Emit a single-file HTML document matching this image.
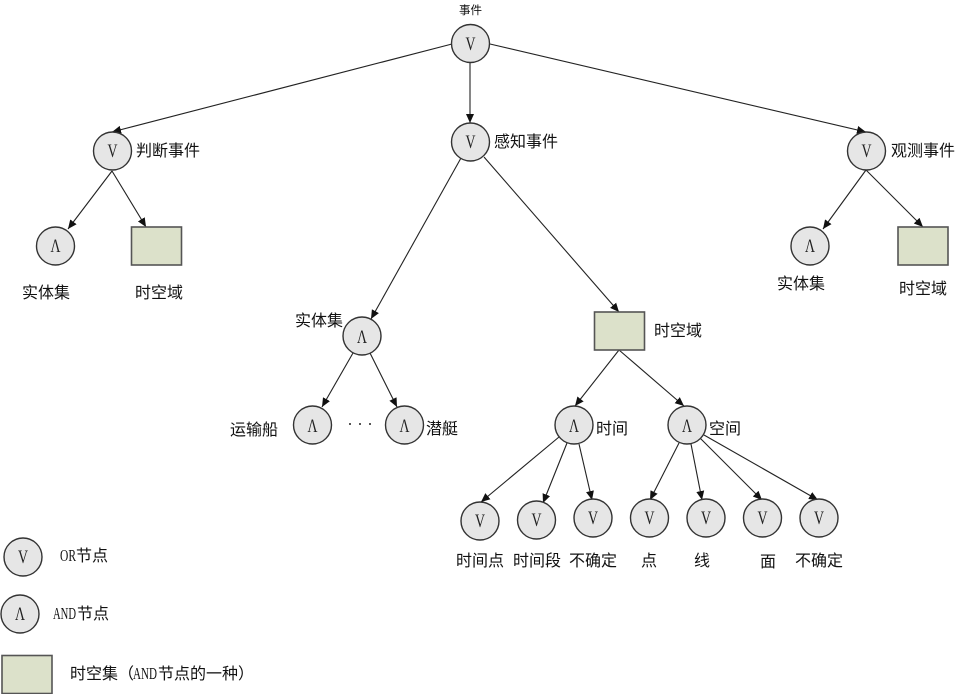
<!DOCTYPE html>
<html><head><meta charset="utf-8"><style>
html,body{margin:0;padding:0;background:#fff}
svg{display:block}
text{font-family:"Liberation Sans","WenQuanYi Zen Hei","Noto Sans CJK SC",sans-serif;fill:#111}
.l{font-size:16px}
.n{font-family:"Liberation Serif",serif;font-size:19px;fill:#222;text-anchor:middle}
circle{fill:#e6e6e6;stroke:#333;stroke-width:1.4}
rect{fill:#dce1ca;stroke:#555;stroke-width:1.6}
line{stroke:#222;stroke-width:1.1;marker-end:url(#a)}
</style></head><body>
<svg width="964" height="694" viewBox="0 0 964 694" xmlns="http://www.w3.org/2000/svg">
<defs><marker id="a" markerUnits="userSpaceOnUse" markerWidth="11" markerHeight="10" refX="9" refY="5" orient="auto"><path d="M0,1L9,5L0,9z" fill="#111"/></marker></defs>
<line x1="452" y1="44" x2="112" y2="132"/>
<line x1="470" y1="62" x2="470" y2="123"/>
<line x1="490" y1="44" x2="866" y2="132"/>
<line x1="112" y1="171" x2="68" y2="229"/>
<line x1="112" y1="171" x2="146" y2="227"/>
<line x1="866" y1="170" x2="823" y2="229"/>
<line x1="866" y1="170" x2="923" y2="227"/>
<line x1="461" y1="158" x2="371" y2="319"/>
<line x1="484" y1="157" x2="619" y2="312"/>
<line x1="353" y1="353" x2="322" y2="407"/>
<line x1="370" y1="353" x2="397" y2="407"/>
<line x1="619" y1="350" x2="575" y2="406"/>
<line x1="619" y1="350" x2="684" y2="406"/>
<line x1="559" y1="437" x2="481" y2="502"/>
<line x1="567" y1="443" x2="543" y2="503"/>
<line x1="579" y1="444" x2="592" y2="500"/>
<line x1="679" y1="443" x2="650" y2="500"/>
<line x1="691" y1="444" x2="702" y2="500"/>
<line x1="700" y1="438" x2="762" y2="500"/>
<line x1="704" y1="435" x2="818" y2="500"/>

<circle cx="470.500" cy="43.500" r="19"/><text class="n" x="470.500" y="50" textLength="10" lengthAdjust="spacingAndGlyphs">V</text>
<circle cx="470.500" cy="142" r="19"/><text class="n" x="470.500" y="148" textLength="10" lengthAdjust="spacingAndGlyphs">V</text>
<circle cx="112.500" cy="151" r="19"/><text class="n" x="112.500" y="157" textLength="10" lengthAdjust="spacingAndGlyphs">V</text>
<circle cx="866.500" cy="151" r="19"/><text class="n" x="866.500" y="157" textLength="10" lengthAdjust="spacingAndGlyphs">V</text>
<circle cx="55.500" cy="246" r="19"/><text class="n" x="55.500" y="252" textLength="10" lengthAdjust="spacingAndGlyphs">Λ</text>
<circle cx="810" cy="246" r="19"/><text class="n" x="810" y="252" textLength="10" lengthAdjust="spacingAndGlyphs">Λ</text>
<circle cx="362" cy="336" r="19"/><text class="n" x="362" y="343" textLength="10" lengthAdjust="spacingAndGlyphs">Λ</text>
<circle cx="312.500" cy="425" r="19"/><text class="n" x="312.500" y="432" textLength="10" lengthAdjust="spacingAndGlyphs">Λ</text>
<circle cx="404.500" cy="425" r="19"/><text class="n" x="404.500" y="432" textLength="10" lengthAdjust="spacingAndGlyphs">Λ</text>
<circle cx="574" cy="425" r="19"/><text class="n" x="574" y="432" textLength="10" lengthAdjust="spacingAndGlyphs">Λ</text>
<circle cx="687" cy="425" r="19"/><text class="n" x="687" y="432" textLength="10" lengthAdjust="spacingAndGlyphs">Λ</text>
<circle cx="480" cy="521" r="19"/><text class="n" x="480" y="527" textLength="10" lengthAdjust="spacingAndGlyphs">V</text>
<circle cx="536.500" cy="520" r="19"/><text class="n" x="536.500" y="526" textLength="10" lengthAdjust="spacingAndGlyphs">V</text>
<circle cx="593" cy="518" r="19"/><text class="n" x="593" y="524" textLength="10" lengthAdjust="spacingAndGlyphs">V</text>
<circle cx="649.500" cy="518" r="19"/><text class="n" x="649.500" y="524" textLength="10" lengthAdjust="spacingAndGlyphs">V</text>
<circle cx="706" cy="518" r="19"/><text class="n" x="706" y="524" textLength="10" lengthAdjust="spacingAndGlyphs">V</text>
<circle cx="762.500" cy="518" r="19"/><text class="n" x="762.500" y="524" textLength="10" lengthAdjust="spacingAndGlyphs">V</text>
<circle cx="819" cy="518" r="19"/><text class="n" x="819" y="524" textLength="10" lengthAdjust="spacingAndGlyphs">V</text>
<circle cx="23" cy="557" r="19"/><text class="n" x="23" y="563" textLength="10" lengthAdjust="spacingAndGlyphs">V</text>
<circle cx="20" cy="614" r="19"/><text class="n" x="20" y="620" textLength="10" lengthAdjust="spacingAndGlyphs">Λ</text>

<rect x="131.500" y="227" width="50" height="38"/>
<rect x="898" y="227" width="50" height="38"/>
<rect x="594.500" y="312" width="50" height="38"/>
<rect x="2" y="655.500" width="50" height="38"/>

<text x="459" y="14" style="font-size:11.500px">事件</text>
<text class="l" x="494" y="147">感知事件</text>
<text class="l" x="136" y="156">判断事件</text>
<text class="l" x="891" y="156">观测事件</text>
<text class="l" x="22" y="298">实体集</text>
<text class="l" x="135" y="298">时空域</text>
<text class="l" x="777" y="289">实体集</text>
<text class="l" x="899" y="294">时空域</text>
<text class="l" x="295" y="326">实体集</text>
<text class="l" x="654" y="336">时空域</text>
<text class="l" x="230" y="435">运输船</text>
<text class="l" x="426" y="434">潜艇</text>
<text class="l" x="596" y="434">时间</text>
<text class="l" x="709" y="434">空间</text>
<text class="l" x="456" y="566">时间点</text>
<text class="l" x="513" y="566">时间段</text>
<text class="l" x="569" y="566">不确定</text>
<text class="l" x="641" y="566">点</text>
<text class="l" x="694" y="566">线</text>
<text class="l" x="760" y="567">面</text>
<text class="l" x="795" y="566">不确定</text>
<circle cx="350" cy="424" r="1" style="fill:#222;stroke:none"/>
<circle cx="360" cy="424" r="1" style="fill:#222;stroke:none"/>
<circle cx="370" cy="424" r="1" style="fill:#222;stroke:none"/>
<text x="60" y="561" style="font-family:'Liberation Serif',serif;font-size:17px" textLength="16" lengthAdjust="spacingAndGlyphs">OR</text>
<text class="l" x="76" y="561">节点</text>
<text x="53" y="619" style="font-family:'Liberation Serif',serif;font-size:17px" textLength="23" lengthAdjust="spacingAndGlyphs">AND</text>
<text class="l" x="77" y="619">节点</text>
<text class="l" x="70" y="679">时空集（</text>
<text x="133" y="679" style="font-family:'Liberation Serif',serif;font-size:17px" textLength="24" lengthAdjust="spacingAndGlyphs">AND</text>
<text class="l" x="158" y="679">节点的一种）</text>
</svg>
</body></html>
